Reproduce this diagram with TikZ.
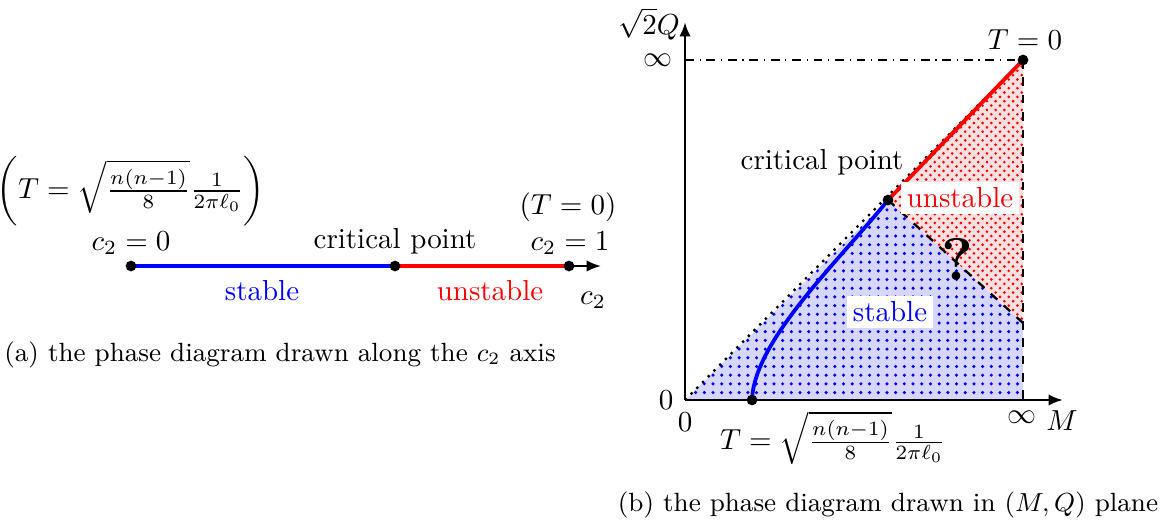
\documentclass[tikz,border=0pt]{standalone}
\usetikzlibrary{patterns,arrows.meta}
\pgfdeclarepatternformonly{gridots}{\pgfqpoint{-1pt}{-1pt}}{\pgfqpoint{1pt}{1pt}}{\pgfqpoint{3pt}{3pt}}{%
  \pgfpathcircle{\pgfqpoint{0pt}{0pt}}{.6pt}\pgfusepath{fill}}
\pgfdeclarepatternformonly{stagdots}{\pgfqpoint{-1pt}{-1pt}}{\pgfqpoint{3pt}{3pt}}{\pgfqpoint{3pt}{3pt}}{%
  \pgfpathcircle{\pgfqpoint{0pt}{0pt}}{.5pt}\pgfpathcircle{\pgfqpoint{1.5pt}{1.5pt}}{.5pt}\pgfusepath{fill}}
\begin{document}
\begin{tikzpicture}[x=0.345pt,y=-0.345pt,
  dotnode/.style={circle,fill=black,inner sep=0pt,minimum size=3.7pt},
  phaseline/.style={line width=1.3pt},
  axisline/.style={line width=1pt,-{Latex[length=5pt,width=4pt]}},
  boxlbl/.style={fill=white,inner sep=2pt},
  captext/.style={font=\fontsize{9.1}{11}\selectfont}]
\useasboundingbox (0,0) rectangle (1162,523);

% ---------- (a) ----------
\coordinate (a0) at (131,266);
\coordinate (ac) at (395,266);
\coordinate (a1) at (569,266);
\coordinate (aend) at (601,266);
\draw[blue,phaseline] (a0) -- (ac);
\draw[red,phaseline] (ac) -- (a1);
\draw[thick,-{Latex[length=5pt,width=4pt]}] (a1) -- (aend);
\node[dotnode] (d0) at (a0) {};
\node[dotnode] (dc) at (ac) {};
\node[dotnode] (d1) at (a1) {};

\node (lT) at (131,191) {$\left(T=\sqrt{\frac{n(n-1)}{8}}\frac{1}{2\pi\ell_0}\right)$};
\node (lT0) at (568,207) {$(T=0)$};
\node (lc0) at (131,243) {$c_2=0$};
\node (lcp) at (395,241) {critical point};
\node (lc1) at (570,243) {$c_2=1$};
\node[text=blue] (lst) at (262,291) {stable};
\node[text=red] (lun) at (490,291) {unstable};
\node (lc2) at (593,300) {$c_2$};
\node[captext] (capa) at (280,355) {(a) the phase diagram drawn along the $c_2$ axis};

% ---------- (b) ----------
\coordinate (O) at (685,400);
\coordinate (T0) at (1023,60);
\coordinate (cp) at (888,200);
\coordinate (Tm) at (752,400);
\coordinate (Qd) at (1023,323);
\coordinate (Minf) at (1023,400);
\coordinate (Qinf) at (685,60);
\coordinate (Xend) at (1063,400);
\coordinate (Yend) at (685,22);

\fill[blue!16] (O) -- (cp) -- (Qd) -- (Minf) -- cycle;
\fill[pattern=gridots,pattern color=blue] (O) -- (cp) -- (Qd) -- (Minf) -- cycle;
\fill[red!12] (cp) -- (T0) -- (Qd) -- cycle;
\fill[pattern=stagdots,pattern color=red] (cp) -- (T0) -- (Qd) -- cycle;

\draw[dotted,thick] (O) -- (T0);
\draw[dash dot] (Qinf) -- (T0);
\draw[dashed] (T0) -- (Minf);
\draw[dashed,thick] (cp) -- (Qd);
\draw[red,phaseline] (cp) -- (T0);
\draw[blue,phaseline] (Tm) .. controls (754,340) and (840,260) .. (cp);
\draw[axisline] (O) -- (Xend);
\draw[axisline] (O) -- (Yend);

\node[dotnode] (dT0) at (T0) {};
\node[dotnode] (dcp) at (cp) {};
\node[dotnode] (dTm) at (Tm) {};

\node (lQ) at (649,24) {$\sqrt{2}Q$};
\node (lQinf) at (658,60) {$\infty$};
\node (lTz) at (1025,40) {$T=0$};
\node (lcp2) at (822,162) {critical point};
\node[boxlbl,text=red] (lun2) at (960,198) {unstable};
\node[boxlbl,text=blue] (lst2) at (890,312) {stable};
\node (lq) at (957,259) {\huge\bfseries ?};
\node (l0y) at (666,400) {$0$};
\node (l0x) at (685,422) {$0$};
\node (lMinf) at (1022,417) {$\infty$};
\node (lM) at (1062,421) {$M$};
\node (lTm) at (833,438) {$T=\sqrt{\frac{n(n-1)}{8}}\frac{1}{2\pi\ell_0}$};
\node[captext] (capb) at (888,505) {(b) the phase diagram drawn in $(M,Q)$ plane};
\end{tikzpicture}
\end{document}
